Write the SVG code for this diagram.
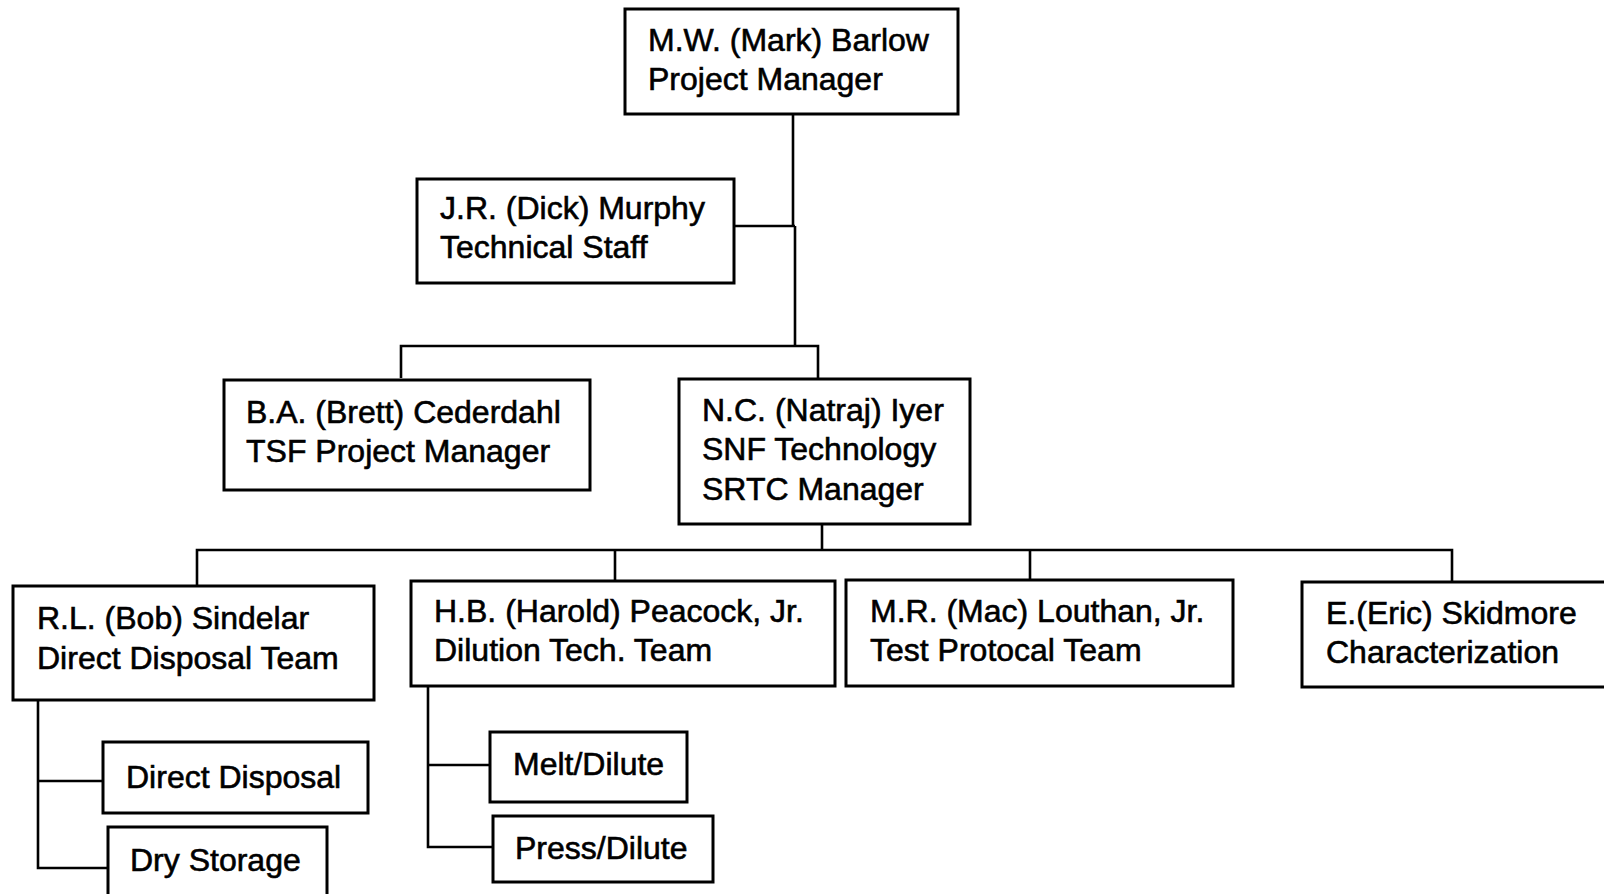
<svg xmlns="http://www.w3.org/2000/svg" width="1604" height="894" viewBox="0 0 1604 894">
<style>
.box{fill:#fff;stroke:#000;stroke-width:3}
.t{font-family:"Liberation Sans",Arial,Helvetica,sans-serif;font-size:32px;fill:#000;stroke:#000;stroke-width:0.6}
.c{fill:none;stroke:#000;stroke-width:2.6}
</style>
<rect width="1604" height="894" fill="#fff"/>
<g id="connectors">
<path class="c" d="M793 114 V226 M734 226 H795 M795 226 V346"/>
<path class="c" d="M401 378 V346 H818 V379"/>
<path class="c" d="M822 524 V549"/>
<path class="c" d="M197 586 V550 H1452 V582"/>
<path class="c" d="M615 549 V581 M1030 549 V580"/>
<path class="c" d="M38 700 V868 H108 M38 781 H103"/>
<path class="c" d="M428 686 V847 H493 M428 765 H490"/>
</g>
<g id="barlow"><rect class="box" x="625" y="9" width="333" height="105"/>
<text class="t" x="648" y="51">M.W. (Mark) Barlow</text><text class="t" x="648" y="90">Project Manager</text></g>
<g id="murphy"><rect class="box" x="417" y="179" width="317" height="104"/>
<text class="t" x="440" y="219">J.R. (Dick) Murphy</text><text class="t" x="440" y="258">Technical Staff</text></g>
<g id="cederdahl"><rect class="box" x="224" y="380" width="366" height="110"/>
<text class="t" x="246" y="423">B.A. (Brett) Cederdahl</text><text class="t" x="246" y="462">TSF Project Manager</text></g>
<g id="iyer"><rect class="box" x="679" y="379" width="291" height="145"/>
<text class="t" x="702" y="421">N.C. (Natraj) Iyer</text><text class="t" x="702" y="460">SNF Technology</text><text class="t" x="702" y="500">SRTC Manager</text></g>
<g id="sindelar"><rect class="box" x="13" y="586" width="361" height="114"/>
<text class="t" x="37" y="629">R.L. (Bob) Sindelar</text><text class="t" x="37" y="669">Direct Disposal Team</text></g>
<g id="peacock"><rect class="box" x="411" y="581" width="424" height="105"/>
<text class="t" x="434" y="622">H.B. (Harold) Peacock, Jr.</text><text class="t" x="434" y="661">Dilution Tech. Team</text></g>
<g id="louthan"><rect class="box" x="846" y="580" width="387" height="106"/>
<text class="t" x="870" y="622">M.R. (Mac) Louthan, Jr.</text><text class="t" x="870" y="661">Test Protocal Team</text></g>
<g id="skidmore"><rect class="box" x="1302" y="582" width="310" height="105"/>
<text class="t" x="1326" y="624">E.(Eric) Skidmore</text><text class="t" x="1326" y="663">Characterization</text></g>
<g id="direct-disposal"><rect class="box" x="103" y="742" width="265" height="71"/>
<text class="t" x="126" y="788">Direct Disposal</text></g>
<g id="dry-storage"><rect class="box" x="108" y="827" width="219" height="75"/>
<text class="t" x="130" y="871">Dry Storage</text></g>
<g id="melt-dilute"><rect class="box" x="490" y="732" width="197" height="70"/>
<text class="t" x="513" y="775">Melt/Dilute</text></g>
<g id="press-dilute"><rect class="box" x="493" y="816" width="220" height="66"/>
<text class="t" x="515" y="859">Press/Dilute</text></g>
</svg>
